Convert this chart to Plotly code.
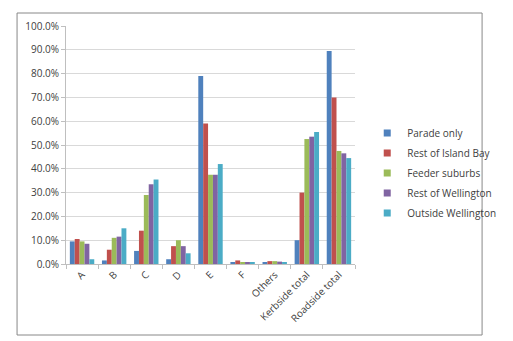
import plotly.graph_objects as go

categories = ["A", "B", "C", "D", "E", "F", "Others", "Kerbside total", "Roadside total"]
series_names = ["Parade only", "Rest of Island Bay", "Feeder suburbs", "Rest of Wellington", "Outside Wellington"]
parade_only = [9.5, 1.5, 5.5, 2.0, 79.0, 0.5, 0.7, 10.0, 89.5]
rest_island_bay = [10.5, 6.0, 14.0, 7.5, 59.0, 1.5, 1.2, 30.0, 70.0]
feeder_suburbs = [9.5, 11.0, 29.0, 10.0, 37.5, 0.8, 1.2, 52.5, 47.5]
rest_wellington = [8.5, 11.5, 33.5, 7.5, 37.5, 0.7, 1.0, 53.5, 46.5]
outside_wellington = [2.0, 15.0, 35.5, 4.5, 42.0, 0.6, 0.8, 55.5, 44.5]
colors = ["#4F81BD", "#C0504D", "#9BBB59", "#8064A2", "#4BACC6"]

series = [parade_only, rest_island_bay, feeder_suburbs, rest_wellington, outside_wellington]

fig = go.Figure()
for name, vals, c in zip(series_names, series, colors):
    fig.add_trace(go.Bar(x=categories, y=vals, name=name, legendgroup=name, showlegend=False,
                         marker=dict(color=c, line=dict(width=0))))
# legend entries with small square swatches
for name, c in zip(series_names, colors):
    fig.add_trace(go.Scatter(x=[None], y=[None], mode="markers", name=name, legendgroup=name,
                             marker=dict(symbol="square", size=7, color=c), showlegend=True))

L, R, T, B = 66, 373, 26, 264
W, H = 513, 341
pw, ph = R - L, B - T

def px(x):
    return (x - L) / pw

def py(y):
    return (B - y) / ph

fig.update_layout(
    width=W, height=H,
    margin=dict(l=L, r=W - R, t=T, b=H - B, pad=0),
    paper_bgcolor="white", plot_bgcolor="white",
    barmode="group", bargap=0.24, bargroupgap=0,
    font=dict(family="Open Sans, Liberation Sans, sans-serif", size=10, color="#404040"),
    legend=dict(x=px(386), y=py(173), xanchor="left", yanchor="middle",
                font=dict(size=10, color="#404040"), tracegroupgap=1, itemwidth=30,
                bgcolor="rgba(0,0,0,0)"),
    showlegend=True,
    shapes=[dict(type="rect", xref="paper", yref="paper",
                 x0=px(14), x1=px(508), y0=py(335), y1=py(13),
                 line=dict(color="#888888", width=1), fillcolor="rgba(0,0,0,0)", layer="below")],
)
fig.update_yaxes(range=[0, 100], dtick=10, tickformat=".1f", ticksuffix="%",
                 showgrid=True, gridcolor="#D9D9D9", gridwidth=1,
                 showline=True, linecolor="#BFBFBF", ticks="outside", ticklen=4,
                 tickcolor="#BFBFBF", zeroline=False, tickfont=dict(size=10, color="#404040"))
fig.update_xaxes(tickangle=-45, showline=True, linecolor="#BFBFBF", ticks="outside",
                 tickson="boundaries", ticklen=4, tickcolor="#BFBFBF",
                 tickfont=dict(size=10, color="#404040"))

fig.write_html("out.html")
